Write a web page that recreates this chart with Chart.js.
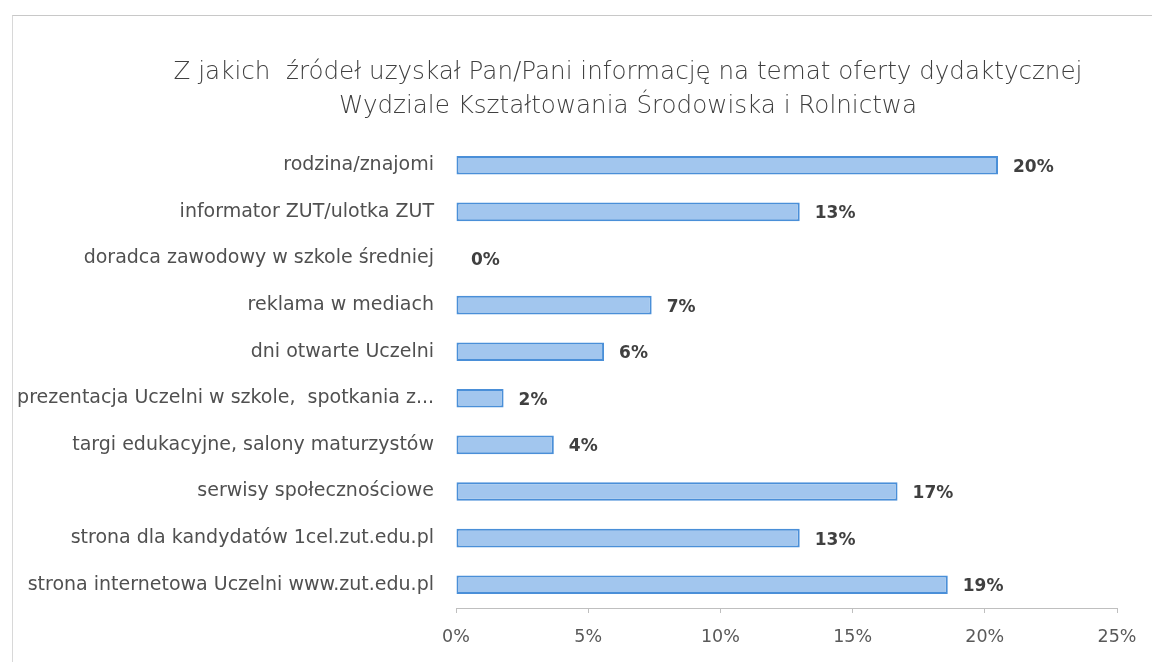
<!DOCTYPE html>
<html>
<head>
<meta charset="utf-8">
<script src="https://cdn.jsdelivr.net/npm/chart.js@4.4.1/dist/chart.umd.min.js"></script>
<style>
  html, body { margin: 0; padding: 0; background: #ffffff; }
  #wrap { position: relative; width: 1152px; height: 662px; }
  #frame { position: absolute; left: 12px; top: 15px; width: 1200px; height: 700px;
           border-top: 1px solid #c8c8c8; border-left: 1px solid #d8d8d8; }
  canvas { position: absolute; left: 0; top: 0; }
</style>
</head>
<body>
<div id="wrap">
  <div id="frame"></div>
  <canvas id="c" width="1152" height="662"></canvas>
</div>
<script>
const titleLines = [
  "Z jakich  źródeł uzyskał Pan/Pani informację na temat oferty dydaktycznej",
  "Wydziale Kształtowania Środowiska i Rolnictwa"
];
const categories = [
  "rodzina/znajomi",
  "informator ZUT/ulotka ZUT",
  "doradca zawodowy w szkole średniej",
  "reklama w mediach",
  "dni otwarte Uczelni",
  "prezentacja Uczelni w szkole,  spotkania z...",
  "targi edukacyjne, salony maturzystów",
  "serwisy społecznościowe",
  "strona dla kandydatów 1cel.zut.edu.pl",
  "strona internetowa Uczelni www.zut.edu.pl"
];
const values = [20.5, 13.0, 0, 7.4, 5.6, 1.8, 3.7, 16.7, 13.0, 18.6];
const valueLabels = ["20%", "13%", "0%", "7%", "6%", "2%", "4%", "17%", "13%", "19%"];
const xTicks = [0, 5, 10, 15, 20, 25];

const FONT = "'DejaVu Sans', sans-serif";

const titlePlugin = {
  id: 'customTitle',
  afterDraw(chart) {
    const ctx = chart.ctx;
    ctx.save();
    ctx.font = "200 24.6px " + FONT;
    ctx.fillStyle = '#404040';
    ctx.textAlign = 'center';
    ctx.textBaseline = 'middle';
    ctx.fillText(titleLines[0], 628, 73);
    ctx.fillText(titleLines[1], 628, 107);
    ctx.restore();
  }
};

const dataLabelPlugin = {
  id: 'dataLabels',
  afterDatasetsDraw(chart) {
    const ctx = chart.ctx;
    const meta = chart.getDatasetMeta(0);
    const xs = chart.scales.x;
    ctx.save();
    ctx.font = "bold 17px " + FONT;
    ctx.fillStyle = '#404040';
    ctx.textAlign = 'left';
    ctx.textBaseline = 'middle';
    meta.data.forEach((bar, i) => {
      const xEnd = xs.getPixelForValue(values[i]);
      ctx.fillText(valueLabels[i], xEnd + 15, bar.y + 2);
    });
    ctx.restore();
  }
};

const leftEdge = 456;

new Chart(document.getElementById('c'), {
  type: 'bar',
  data: {
    labels: categories,
    datasets: [{
      data: values,
      backgroundColor: '#a2c6ee',
      borderColor: '#4a8fd8',
      borderWidth: 2,
      borderSkipped: false,
      barPercentage: 0.4,
      categoryPercentage: 1.0
    }]
  },
  options: {
    indexAxis: 'y',
    responsive: false,
    animation: false,
    layout: { padding: { left: 0, right: 35, top: 142, bottom: 0 } },
    plugins: {
      legend: { display: false },
      tooltip: { enabled: false },
      title: { display: false }
    },
    scales: {
      x: {
        min: 0,
        max: 25,
        afterBuildTicks(scale) { scale.ticks = xTicks.map(v => ({ value: v })); },
        ticks: {
          color: '#595959',
          font: { family: FONT, size: 17.5 },
          padding: 14,
          callback: (v) => v + '%',
          maxRotation: 0
        },
        grid: { drawOnChartArea: false, drawTicks: true, tickLength: 5, color: '#bfbfbf' },
        border: { display: true, color: '#bfbfbf', width: 1 }
      },
      y: {
        ticks: {
          color: '#505050',
          font: { family: FONT, size: 19 },
          padding: 22,
          crossAlign: 'near',
          autoSkip: false
        },
        grid: { display: false, drawTicks: false },
        border: { display: false },
        afterFit(scale) { scale.width = leftEdge; }
      }
    }
  },
  plugins: [dataLabelPlugin, titlePlugin]
});
</script>
</body>
</html>
